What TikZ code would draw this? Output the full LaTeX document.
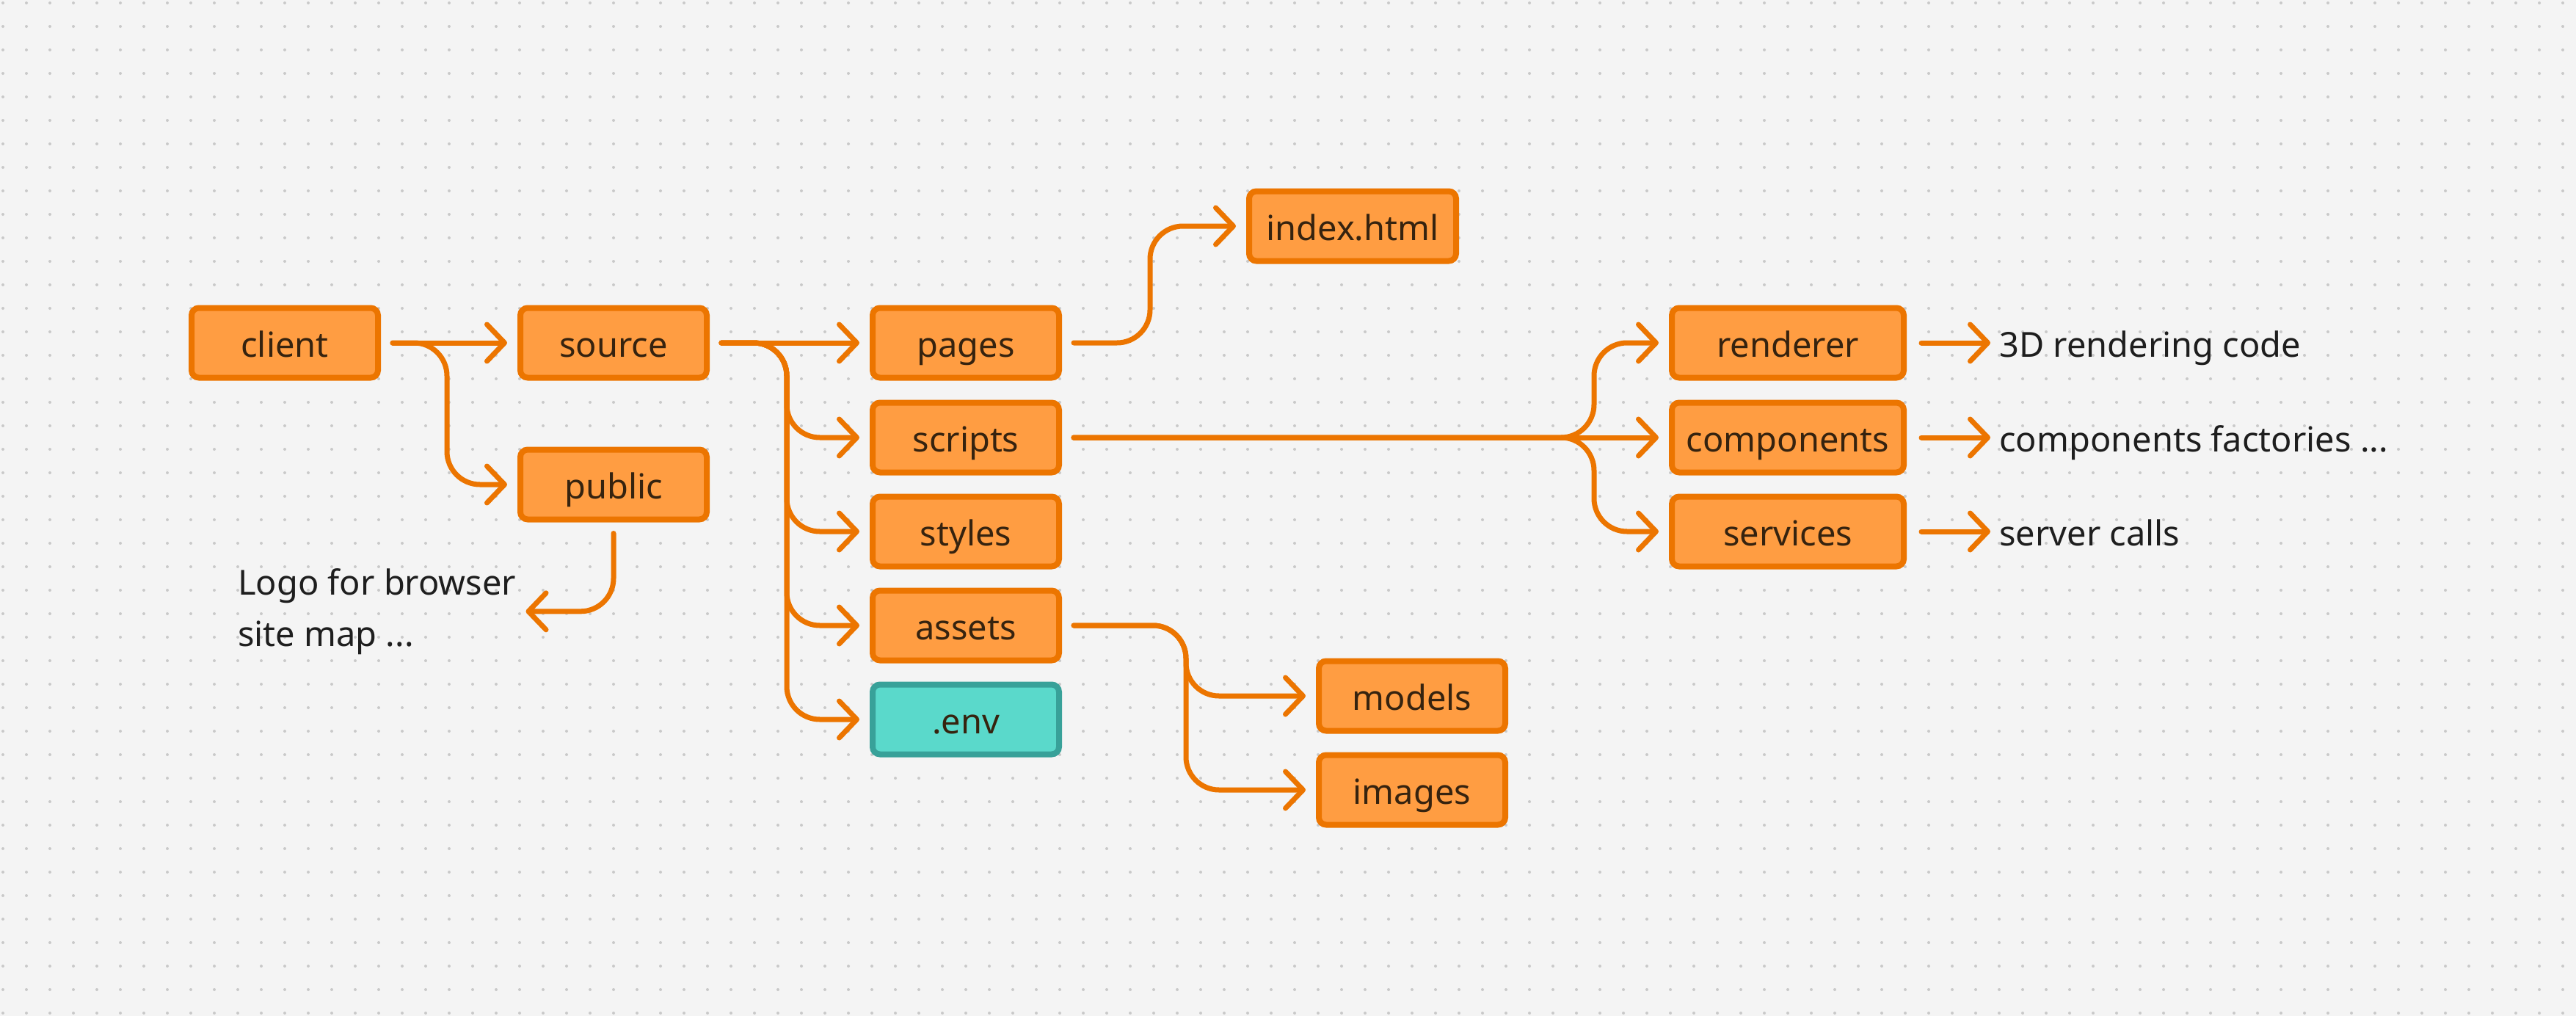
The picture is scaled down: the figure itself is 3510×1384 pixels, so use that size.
\documentclass[tikz,border=0pt]{standalone}
\usepackage{fontspec}
\setmainfont{Noto Sans}
\usetikzlibrary{arrows.meta}

\definecolor{bggray}{HTML}{F4F4F4}
\definecolor{dotgray}{HTML}{C9C9C9}
\definecolor{boxorange}{HTML}{FF9D42}
\definecolor{lineorange}{HTML}{EC7500}
\definecolor{boxink}{HTML}{36230F}
\definecolor{envfill}{HTML}{5AD9CB}
\definecolor{envline}{HTML}{38A199}
\definecolor{noteink}{HTML}{1E1E1E}

\begin{document}
\begin{tikzpicture}[x=1pt,y=-1pt]
    \tikzset{
        dirbox/.style={draw=lineorange, fill=boxorange, line width=8pt, rounded corners=10pt,
            minimum width=254pt, minimum height=95pt, inner sep=0pt, text=boxink,
            text height=48pt, text depth=10pt, font=\fontsize{47}{70}\selectfont},
        envbox/.style={dirbox, draw=envline, fill=envfill},
        note/.style={inner sep=0pt, text=noteink, font=\fontsize{47}{70}\selectfont},
        link/.style={draw=lineorange, line width=7pt, line cap=round, rounded corners=45pt,
            -{Straight Barb[length=24pt,width=50pt,round]}, shorten <=16pt, shorten >=14pt}
    }
    %\tikzset{every node/.style={draw=red}}
    \useasboundingbox (0,0) rectangle (3510,1384);
    \fill[bggray] (0,0) rectangle (3510,1384);
    \foreach \i in {0,...,109}
        \foreach \j in {0,...,43}
            \fill[dotgray] (4+32*\i,4+32*\j) circle (2);

    \node[dirbox] (client) at (388,467) {client};
    \node[dirbox] (source) at (836,467) {source};
    \node[dirbox] (public) at (836,660) {public};
    \node[note, align=left, anchor=north west] (logo) at (324,774) {Logo for browser\\site map ...};

    \node[dirbox] (pages) at (1316,467) {pages};
    \node[dirbox] (scripts) at (1316,596) {scripts};
    \node[dirbox] (styles) at (1316,724) {styles};
    \node[dirbox] (assets) at (1316,852) {assets};
    \node[envbox] (env) at (1316,980) {.env};

    \node[dirbox, minimum width=282pt] (indexhtml) at (1843,308) {index.html};
    \node[dirbox] (models) at (1924,948) {models};
    \node[dirbox] (images) at (1924,1076) {images};

    \node[dirbox, minimum width=316pt] (renderer) at (2436,467) {renderer};
    \node[dirbox, minimum width=316pt] (components) at (2436,596) {components};
    \node[dirbox, minimum width=316pt] (services) at (2436,724) {services};
    \node[note, anchor=base west] (rendertxt) at (2724,486) {3D rendering code};
    \node[note, anchor=base west] (comptxt) at (2724,615) {components factories ...};
    \node[note, anchor=base west] (servtxt) at (2724,743) {server calls};

    % client
    \draw[link] (client.east) -- (source.west);
    \draw[link] (client.east) -| ([xshift=-96pt]public.west) -- (public.west);
    \draw[link, shorten <=15pt, shorten >=13pt] (public.south) |- (logo.east);

    % source
    \draw[link] (source.east) -- (pages.west);
    \foreach \d in {scripts,styles,assets,env}
        \draw[link] (source.east) -| ([xshift=-113pt]\d.west) -- (\d.west);
    \draw[link] (pages.east) -| ([xshift=-131pt]indexhtml.west) -- (indexhtml.west);
    \draw[link] (assets.east) -| ([xshift=-177pt]models.west) -- (models.west);
    \draw[link] (assets.east) -| ([xshift=-177pt]images.west) -- (images.west);

    % scripts
    \draw[link] (scripts.east) -| ([xshift=-102pt]renderer.west) -- (renderer.west);
    \draw[link] (scripts.east) -- (components.west);
    \draw[link] (scripts.east) -| ([xshift=-102pt]services.west) -- (services.west);
    \draw[link, shorten <=20pt, shorten >=12pt] (renderer.east) -- (renderer.east -| rendertxt.west);
    \draw[link, shorten <=20pt, shorten >=12pt] (components.east) -- (components.east -| comptxt.west);
    \draw[link, shorten <=20pt, shorten >=12pt] (services.east) -- (services.east -| servtxt.west);
\end{tikzpicture}
\end{document}
